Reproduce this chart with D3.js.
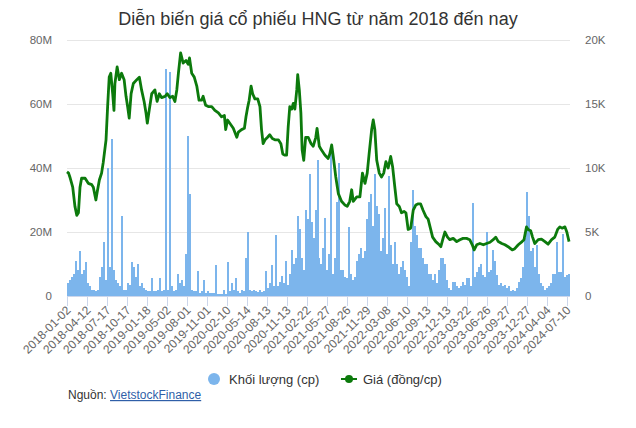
<!DOCTYPE html>
<html>
<head>
<meta charset="utf-8">
<script src="https://cdn.jsdelivr.net/npm/d3@7"></script>
<style>
  body { margin: 0; background: #fff; }
  svg { font-family: "Liberation Sans", Arial, sans-serif; }
</style>
</head>
<body>
<svg id="chart"></svg>
<script>
// category axis labels (one every 63 sessions)
const tickLabels = ["2018-01-02", "2018-04-12", "2018-07-17", "2018-10-17", "2019-01-18",
  "2019-05-02", "2019-08-01", "2019-11-01", "2020-02-10", "2020-05-14", "2020-08-13",
  "2020-11-13", "2021-02-22", "2021-05-27", "2021-08-26", "2021-11-29", "2022-03-08",
  "2022-06-10", "2022-09-13", "2022-12-13", "2023-03-22", "2023-06-26", "2023-09-27",
  "2023-12-27", "2024-04-04", "2024-07-10"];
const sessionsPerTick = 63;
const totalSessions = 1585;

// volume, millions of shares, bucketed (~6 sessions each)
const volume = [4, 5, 6, 7, 11, 8, 14, 7, 8, 10.7, 4, 3, 2, 2, 1.5, 2, 6, 9, 17, 5,
  40, 9, 49, 8, 5, 4, 3, 25, 2, 2, 4, 3.5, 10.6, 9, 6, 10, 3, 4, 2.5, 2,
  1.5, 1.5, 5.5, 1.5, 1.5, 2, 5.5, 1.5, 2, 71, 2, 70, 3, 1.5, 2, 7, 4, 5, 3, 13,
  50, 32, 2, 1.5, 1.5, 7.8, 1, 1.5, 5, 1, 1.5, 1, 1, 1, 9.6, 0.6, 0.5, 0.5, 2, 0.6,
  10.6, 1.5, 4, 2, 5.5, 1.5, 1, 2, 1.5, 12, 20, 2, 1.5, 2, 1.5, 1.2, 1.8, 1.2, 1.5, 7.8,
  2.5, 4.2, 9.6, 3, 19, 3, 4.5, 6.3, 4, 11, 3.5, 7, 14.5, 10, 12, 25, 21, 12, 8, 27,
  24, 38, 23, 18, 27, 42.5, 12, 10, 15, 24.5, 8, 13, 45.6, 7, 12, 29.5, 41.5, 8, 8, 6,
  5.5, 21.7, 7, 5, 6, 11, 13, 15, 12, 14, 24, 29.5, 32, 22, 38, 28, 25.5, 14, 18, 27.6,
  13, 37.5, 16, 10, 17, 10, 7, 9, 11, 8, 6, 3, 17, 33, 22, 19, 15, 15, 12, 10,
  10, 7, 7, 5, 7, 4, 8, 12, 12, 10, 5, 2.5, 2, 4.5, 4.5, 3, 2.5, 3, 4.5, 3.5,
  5.5, 5.5, 3, 29, 6, 7.5, 9, 10, 6.5, 6, 20, 7.5, 8, 14.4, 11, 6.5, 3.5, 4, 3, 3.5,
  2.5, 3, 1.5, 2, 1.5, 2.5, 4.5, 5.5, 9, 18, 32.6, 25, 14, 15, 9, 16, 7, 4, 3, 2,
  2.5, 3, 4, 7, 7, 17, 7.5, 7.5, 19.5, 6, 6.5, 7];

// price, thousand VND per share: [session, price]
const price = [[0, 9.7], [5, 9.6], [9, 9.3], [18, 8.5], [25, 7.0], [31, 6.3], [36, 6.5],
  [41, 8.5], [46, 9.2], [57, 9.2], [67, 8.8], [78, 8.7], [83, 8.5], [91, 7.5], [95, 8.1],
  [102, 9.06], [109, 9.6], [114, 10.4], [123, 12.2], [128, 14.8], [133, 17.1], [138, 17.4],
  [144, 15.8], [148, 14.5], [151, 16.6], [158, 17.9], [165, 16.9], [172, 17.4], [180, 16.9],
  [186, 15.6], [191, 14.8], [196, 13.9], [202, 15.8], [209, 16.6], [220, 16.9], [228, 17.1],
  [235, 16.1], [243, 15.2], [249, 14.3], [253, 13.5], [259, 14.5], [267, 15.8], [277, 16.1],
  [284, 15.2], [291, 15.8], [298, 15.5], [309, 15.6], [316, 15.8], [324, 15.5], [333, 15.6],
  [340, 15.2], [346, 16.1], [351, 17.4], [358, 19.0], [366, 18.2], [375, 18.4], [382, 18.1],
  [386, 18.6], [393, 17.4], [401, 17.1], [409, 16.4], [416, 15.3], [424, 15.3], [429, 15.6],
  [437, 14.9], [445, 14.8], [456, 14.8], [466, 14.5], [477, 14.3], [487, 14.0], [496, 14.1],
  [500, 13.0], [506, 13.75], [513, 13.5], [524, 13.1], [535, 12.4], [540, 12.8], [550, 13.0],
  [559, 13.1], [564, 14.0], [569, 14.7], [574, 15.3], [580, 16.4], [585, 15.8], [592, 15.4],
  [601, 15.4], [608, 14.8], [613, 13.0], [618, 11.9], [624, 12.2], [632, 12.4], [639, 12.6],
  [647, 12.3], [655, 12.2], [666, 12.2], [674, 11.9], [680, 11.1], [687, 11.0], [692, 11.0],
  [697, 13.2], [702, 14.8], [708, 14.6], [713, 15.05], [718, 14.6], [724, 16.1], [727, 17.3],
  [732, 16.1], [737, 14.3], [741, 11.4], [746, 10.6], [752, 12.4], [760, 12.4], [769, 11.9],
  [776, 11.7], [784, 12.4], [788, 13.1], [795, 11.7], [802, 11.4], [813, 11.0], [823, 10.75],
  [828, 11.1], [834, 11.8], [839, 10.9], [847, 9.3], [855, 8.0], [865, 7.4], [876, 7.1],
  [883, 7.0], [891, 7.4], [897, 8.3], [902, 7.4], [913, 7.75], [923, 7.75], [931, 9.6],
  [939, 8.8], [946, 9.6], [952, 11.1], [960, 13.0], [965, 13.75], [970, 13.0], [976, 10.6],
  [984, 9.6], [991, 9.3], [998, 9.6], [1005, 10.5], [1012, 10.0], [1020, 10.9], [1026, 10.1],
  [1033, 8.5], [1039, 7.2], [1047, 7.0], [1054, 6.5], [1062, 6.6], [1068, 6.5], [1075, 5.2],
  [1083, 5.3], [1091, 6.7], [1099, 7.1], [1107, 7.2], [1114, 7.2], [1122, 6.7], [1131, 6.2],
  [1138, 6.0], [1146, 5.2], [1152, 4.6], [1162, 4.25], [1173, 4.0], [1178, 3.85], [1185, 4.5],
  [1191, 5.0], [1199, 4.6], [1206, 4.4], [1217, 4.5], [1228, 4.25], [1238, 4.4], [1248, 4.5],
  [1259, 4.5], [1269, 4.4], [1277, 4.0], [1283, 3.6], [1291, 4.0], [1301, 4.1], [1312, 4.0],
  [1322, 4.1], [1333, 4.2], [1343, 4.4], [1351, 4.6], [1359, 4.25], [1370, 4.1], [1380, 4.0],
  [1390, 3.85], [1403, 3.6], [1411, 3.7], [1422, 4.0], [1434, 4.25], [1440, 4.4], [1448, 5.4],
  [1453, 5.2], [1461, 5.1], [1467, 4.6], [1474, 4.1], [1485, 4.4], [1495, 4.45], [1506, 4.25],
  [1516, 4.05], [1527, 4.4], [1537, 4.6], [1546, 5.2], [1553, 5.4], [1560, 5.3], [1569, 5.4],
  [1575, 5.0], [1582, 4.25]];

const volTicks = [0, 20, 40, 60, 80];
const priceTicks = [0, 5, 10, 15, 20];

const dims = {
  width: 636,
  height: 428,
  margin: { top: 40, left: 67, right: 66, bottom: 132 },
};
dims.innerWidth = dims.width - dims.margin.left - dims.margin.right;
dims.innerHeight = dims.height - dims.margin.top - dims.margin.bottom;

const svg = d3.select("#chart")
  .attr("width", dims.width)
  .attr("height", dims.height)
  .attr("viewBox", [0, 0, dims.width, dims.height]);

svg.append("text")
  .attr("x", 318)
  .attr("y", 25)
  .attr("text-anchor", "middle")
  .attr("font-size", 18)
  .attr("fill", "#333")
  .text("Diễn biến giá cổ phiếu HNG từ năm 2018 đến nay");

const base = svg.append("g")
  .attr("transform", `translate(${dims.margin.left},${dims.margin.top})`);

const xScale = d3.scaleLinear().domain([0, totalSessions]).range([0, dims.innerWidth]);
const barScale = d3.scaleBand().domain(d3.range(volume.length)).range([0, dims.innerWidth]).padding(0);
const yVol = d3.scaleLinear().domain([0, 80]).range([dims.innerHeight, 0]);
const yPrice = d3.scaleLinear().domain([0, 20]).range([dims.innerHeight, 0]);

// grid
base.append("g")
  .selectAll("line")
  .data(volTicks.slice(1))
  .join("line")
  .attr("x1", 0)
  .attr("x2", dims.innerWidth)
  .attr("y1", (d) => Math.round(yVol(d)) + 0.5)
  .attr("y2", (d) => Math.round(yVol(d)) + 0.5)
  .attr("stroke", "#e6e6e6");

// left axis
base.append("g")
  .call(d3.axisLeft(yVol).tickValues(volTicks).tickSize(0).tickPadding(15)
    .tickFormat((d) => (d === 0 ? "0" : d + "M")))
  .call((g) => {
    g.select(".domain").remove();
    g.selectAll(".tick text")
      .attr("font-size", 11.5)
      .attr("font-family", "Liberation Sans, Arial")
      .attr("fill", "#666");
  });

// right axis
base.append("g")
  .attr("transform", `translate(${dims.innerWidth},0)`)
  .call(d3.axisRight(yPrice).tickValues(priceTicks).tickSize(0).tickPadding(15)
    .tickFormat((d) => (d === 0 ? "0" : d + "K")))
  .call((g) => {
    g.select(".domain").remove();
    g.selectAll(".tick text")
      .attr("font-size", 11.5)
      .attr("font-family", "Liberation Sans, Arial")
      .attr("fill", "#666");
  });

// volume bars
base.append("g")
  .attr("shape-rendering", "crispEdges")
  .selectAll("rect")
  .data(volume)
  .join("rect")
  .attr("x", (d, i) => barScale(i))
  .attr("width", barScale.bandwidth())
  .attr("y", (d) => yVol(d))
  .attr("height", (d) => yVol(0) - yVol(d))
  .attr("fill", "#7cb5ec");

// x axis
const tickPos = tickLabels.map((t, i) => xScale(i * sessionsPerTick));
const xAxis = base.append("g").attr("transform", `translate(0,${dims.innerHeight})`);
xAxis.append("line")
  .attr("x1", 0).attr("x2", dims.innerWidth)
  .attr("y1", 0.5).attr("y2", 0.5)
  .attr("stroke", "#ccd6eb");
const xt = xAxis.selectAll("g.xtick")
  .data(tickLabels)
  .join("g")
  .attr("class", "xtick")
  .attr("transform", (d, i) => `translate(${Math.round(tickPos[i]) + 0.5},0)`);
xt.append("line").attr("y1", 0).attr("y2", 10).attr("stroke", "#ccd6eb");
xt.append("text")
  .attr("transform", "translate(4,15) rotate(-45)")
  .attr("text-anchor", "end")
  .attr("font-size", 12)
  .attr("fill", "#666")
  .text((d) => d);

// price line
base.append("path")
  .datum(price)
  .attr("fill", "none")
  .attr("stroke", "#0c7a0c")
  .attr("stroke-width", 2.8)
  .attr("stroke-linejoin", "round")
  .attr("d", d3.line().x((d) => xScale(d[0])).y((d) => yPrice(d[1])));

// legend
const legend = svg.append("g").attr("transform", "translate(0,379)");
legend.append("circle").attr("cx", 214).attr("cy", 0).attr("r", 6).attr("fill", "#7cb5ec");
legend.append("text").attr("x", 229).attr("y", 5).attr("font-size", 13).attr("fill", "#333")
  .text("Khối lượng (cp)");
legend.append("line").attr("x1", 341).attr("x2", 357).attr("y1", 0).attr("y2", 0)
  .attr("stroke", "#0c7a0c").attr("stroke-width", 2);
legend.append("circle").attr("cx", 349).attr("cy", 0).attr("r", 4).attr("fill", "#0c7a0c");
legend.append("text").attr("x", 363).attr("y", 5).attr("font-size", 13).attr("fill", "#333")
  .text("Giá (đồng/cp)");

// source
const src = svg.append("text").attr("x", 68).attr("y", 399).attr("font-size", 12).attr("fill", "#333");
src.append("tspan").text("Nguồn: ");
src.append("tspan").attr("fill", "#2f5fa8").attr("text-decoration", "underline").text("VietstockFinance");
</script>
</body>
</html>
